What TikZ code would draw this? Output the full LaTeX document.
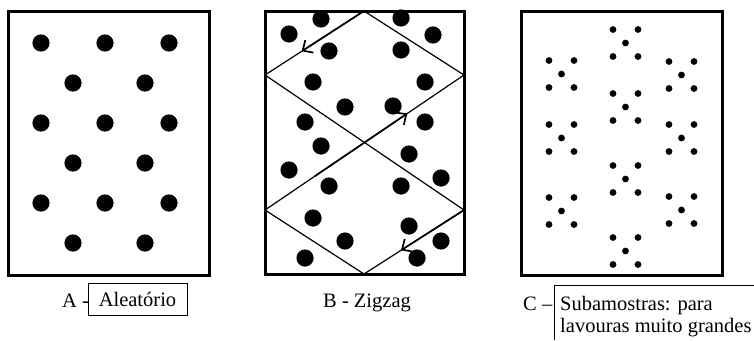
\documentclass[tikz,border=0pt]{standalone}
\usepackage{fontspec}
\setmainfont{Liberation Serif}
\usetikzlibrary{arrows.meta,calc}
\tikzset{
  field/.style={draw=black, line width=3pt},
  bigdot/.style={fill=black},
  zz/.style={draw=black, line width=1.2pt},
  zzarrow/.style={draw=black, line width=1.7pt, -{Straight Barb[length=8pt,width=15pt,line width=1.7pt]}},
  lbl/.style={font=\fontsize{20.5}{22}\selectfont, inner sep=0pt, anchor=base west},
  lblbox/.style={draw=black, line width=0.8pt, font=\fontsize{20.5}{22}\selectfont, minimum width=99pt, minimum height=32pt, text height=15pt, text depth=0pt, inner sep=0pt},
  openbox/.style={draw=black, line width=0.8pt}
}
\begin{document}
\begin{tikzpicture}[x=1pt,y=-1pt]
\useasboundingbox (0,0) rectangle (754,340);
% --- field A
\draw[field] (8,11) rectangle (209,275);
\foreach \yy in {43,123,203}{\foreach \xx in {41,105,169}{\fill[bigdot] (\xx,\yy) circle (8.6pt);}}
\foreach \yy in {83,163,243}{\foreach \xx in {73,145}{\fill[bigdot] (\xx,\yy) circle (8.6pt);}}
% --- field B
\draw[field] (265,11) rectangle (464,274);
\coordinate (T) at (364,11);
\coordinate (L) at (265,75);
\coordinate (R) at (464,75);
\coordinate (LL) at (265,210);
\coordinate (RR) at (464,210);
\coordinate (Bt) at (364,274);
\draw[zz] (T) -- (L);
\draw[zz] (T) -- (R);
\draw[zz] (L) -- (RR);
\draw[zz] (R) -- (LL);
\draw[zz] (LL) -- (Bt);
\draw[zz] (RR) -- (Bt);
\draw[zzarrow] (T) -- ($(T)!0.63!(L)$);
\draw[zzarrow] ($(LL)!0.25!(R)$) -- ($(LL)!0.715!(R)$);
\draw[zzarrow] (RR) -- ($(RR)!0.63!(Bt)$);
\foreach \xx/\yy in {321/19,401/18,289/34,433/35,329/51,401/50,313/82,425/82,345/107,393/106,305/122,425/122,321/146,409/154,289/170,441/178,329/186,401/186,313/218,409/226,345/241,441/241,305/258,417/258}
  {\fill[bigdot] (\xx,\yy) circle (8.6pt);}
% --- field C
\draw[field] (521,11) rectangle (722,275);
\foreach \cx/\cy in {625.5/43,625.5/107,625.5/179,625.5/251,561.5/74,561.5/138,561.5/211,681.5/75,681.5/138,681.5/210}{
  \foreach \dx/\dy in {-12.5/-13.5,12.5/-13.5,0/0,-12.5/13.5,12.5/13.5}
    {\fill[bigdot] (\cx+\dx,\cy+\dy) circle (3.4pt);}
}
% --- labels
\node[lbl] (la) at (62,307) {A -};
\node[lblbox] (aleat) at (137.5,299) {Aleatório};
\node[lbl] (lb) at (323,307.5) {B - Zigzag};
\node[lbl] (lc) at (523,310) {C –};
\coordinate (cb1) at (554,340);
\coordinate (cb2) at (554,285);
\coordinate (cb3) at (754,285);
\draw[openbox] (cb1) -- (cb2) -- (cb3);
\node[lbl] (lc1) at (560,310) {Subamostras: para};
\node[lbl] (lc2) at (560,332) {lavouras muito grandes};
\end{tikzpicture}
\end{document}
